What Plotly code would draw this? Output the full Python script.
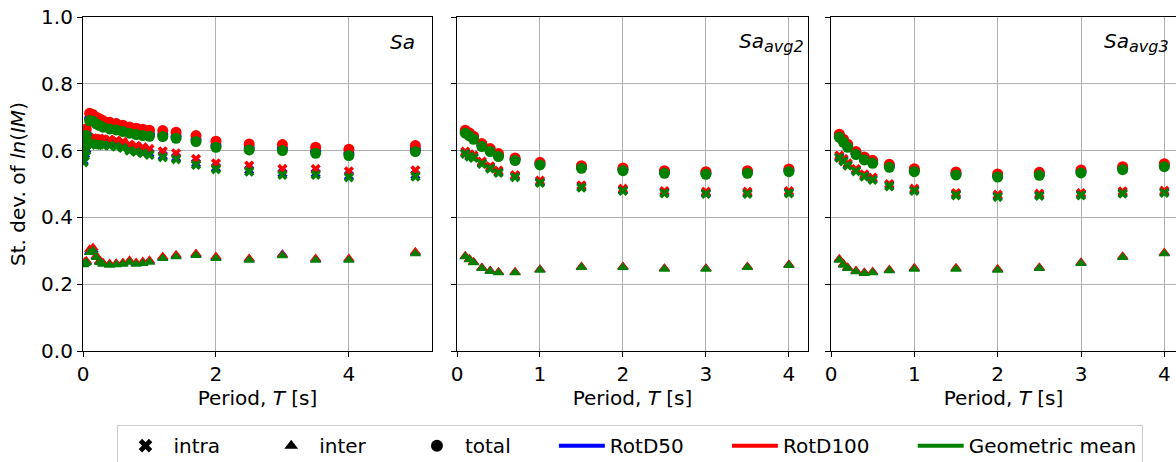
import plotly.graph_objects as go

# ---------------- data ----------------
# Panel 1: Sa
T_sa = [0.01, 0.03, 0.05, 0.1, 0.15, 0.2, 0.25, 0.3, 0.4, 0.5, 0.6, 0.7, 0.8, 0.9, 1.0,
        1.2, 1.4, 1.7, 2.0, 2.5, 3.0, 3.5, 4.0, 5.0]
sa_total_gm = [0.625, 0.635, 0.645, 0.690, 0.688, 0.680, 0.675, 0.670, 0.665, 0.662, 0.657, 0.652,
               0.648, 0.645, 0.643, 0.642, 0.637, 0.627, 0.610, 0.602, 0.600, 0.592, 0.585, 0.597]
sa_total_d50 = [0.630, 0.640, 0.650, 0.697, 0.695, 0.687, 0.682, 0.677, 0.672, 0.668, 0.663, 0.658,
                0.654, 0.651, 0.649, 0.648, 0.643, 0.633, 0.616, 0.608, 0.606, 0.598, 0.592, 0.604]
sa_total_d100 = [0.645, 0.655, 0.665, 0.712, 0.708, 0.700, 0.695, 0.690, 0.685, 0.681, 0.676, 0.671,
                 0.667, 0.664, 0.661, 0.660, 0.655, 0.645, 0.628, 0.620, 0.618, 0.610, 0.604, 0.615]
sa_intra_gm = [0.565, 0.585, 0.600, 0.622, 0.620, 0.617, 0.618, 0.616, 0.615, 0.612, 0.608, 0.600,
               0.596, 0.592, 0.587, 0.580, 0.574, 0.557, 0.544, 0.537, 0.527, 0.527, 0.520, 0.522]
sa_intra_d50 = [0.570, 0.590, 0.605, 0.627, 0.625, 0.622, 0.623, 0.621, 0.620, 0.617, 0.613, 0.605,
                0.601, 0.597, 0.592, 0.585, 0.579, 0.562, 0.549, 0.542, 0.532, 0.532, 0.525, 0.527]
sa_intra_d100 = [0.583, 0.603, 0.618, 0.638, 0.637, 0.635, 0.636, 0.634, 0.633, 0.630, 0.626, 0.618,
                 0.614, 0.610, 0.605, 0.598, 0.592, 0.575, 0.562, 0.555, 0.545, 0.545, 0.538, 0.541]
sa_inter_gm = [0.258, 0.262, 0.265, 0.295, 0.300, 0.280, 0.265, 0.260, 0.257, 0.258, 0.260, 0.266,
               0.260, 0.262, 0.266, 0.277, 0.282, 0.286, 0.277, 0.272, 0.285, 0.272, 0.272, 0.291]
sa_inter_d50 = [0.261, 0.265, 0.268, 0.299, 0.304, 0.283, 0.268, 0.263, 0.260, 0.261, 0.263, 0.269,
                0.263, 0.265, 0.269, 0.280, 0.285, 0.289, 0.280, 0.275, 0.290, 0.275, 0.275, 0.294]
sa_inter_d100 = [0.263, 0.267, 0.270, 0.305, 0.310, 0.286, 0.270, 0.265, 0.262, 0.263, 0.265, 0.272,
                 0.265, 0.268, 0.272, 0.283, 0.288, 0.292, 0.283, 0.277, 0.288, 0.277, 0.277, 0.297]

# Panel 2: Sa_avg2
T_avg2 = [0.1, 0.15, 0.2, 0.3, 0.4, 0.5, 0.7, 1.0, 1.5, 2.0, 2.5, 3.0, 3.5, 4.0]
avg2_total_gm = [0.652, 0.644, 0.634, 0.612, 0.597, 0.582, 0.570, 0.557, 0.547, 0.540, 0.532, 0.529, 0.532, 0.537]
avg2_total_d50 = [0.656, 0.648, 0.638, 0.616, 0.601, 0.586, 0.574, 0.561, 0.551, 0.544, 0.536, 0.533, 0.536, 0.541]
avg2_total_d100 = [0.661, 0.653, 0.643, 0.621, 0.606, 0.591, 0.578, 0.565, 0.555, 0.548, 0.540, 0.537, 0.540, 0.545]
avg2_intra_gm = [0.590, 0.582, 0.578, 0.560, 0.546, 0.533, 0.520, 0.503, 0.489, 0.479, 0.472, 0.470, 0.470, 0.472]
avg2_intra_d50 = [0.593, 0.585, 0.581, 0.563, 0.549, 0.536, 0.523, 0.506, 0.492, 0.482, 0.475, 0.473, 0.473, 0.475]
avg2_intra_d100 = [0.597, 0.589, 0.585, 0.567, 0.553, 0.540, 0.527, 0.510, 0.496, 0.486, 0.479, 0.477, 0.477, 0.479]
avg2_inter_gm = [0.282, 0.273, 0.264, 0.247, 0.238, 0.234, 0.234, 0.242, 0.250, 0.250, 0.245, 0.245, 0.250, 0.256]
avg2_inter_d50 = [0.284, 0.275, 0.266, 0.249, 0.240, 0.236, 0.236, 0.244, 0.252, 0.252, 0.247, 0.247, 0.252, 0.258]
avg2_inter_d100 = [0.285, 0.276, 0.267, 0.250, 0.241, 0.237, 0.237, 0.245, 0.253, 0.253, 0.248, 0.248, 0.253, 0.259]

# Panel 3: Sa_avg3
T_avg3 = [0.1, 0.15, 0.2, 0.3, 0.4, 0.5, 0.7, 1.0, 1.5, 2.0, 2.5, 3.0, 3.5, 4.0]
avg3_total_gm = [0.640, 0.625, 0.610, 0.588, 0.572, 0.562, 0.550, 0.537, 0.527, 0.521, 0.526, 0.533, 0.543, 0.552]
avg3_total_d50 = [0.644, 0.629, 0.614, 0.592, 0.576, 0.566, 0.554, 0.541, 0.531, 0.525, 0.530, 0.537, 0.547, 0.556]
avg3_total_d100 = [0.649, 0.634, 0.619, 0.597, 0.581, 0.571, 0.559, 0.546, 0.536, 0.530, 0.535, 0.542, 0.552, 0.561]
avg3_intra_gm = [0.578, 0.568, 0.555, 0.538, 0.522, 0.512, 0.493, 0.479, 0.466, 0.461, 0.464, 0.466, 0.471, 0.473]
avg3_intra_d50 = [0.581, 0.571, 0.558, 0.541, 0.525, 0.515, 0.496, 0.482, 0.469, 0.464, 0.467, 0.469, 0.474, 0.476]
avg3_intra_d100 = [0.585, 0.575, 0.562, 0.545, 0.529, 0.519, 0.500, 0.486, 0.473, 0.468, 0.471, 0.473, 0.478, 0.480]
avg3_inter_gm = [0.272, 0.257, 0.247, 0.237, 0.232, 0.234, 0.240, 0.245, 0.245, 0.242, 0.247, 0.262, 0.280, 0.291]
avg3_inter_d50 = [0.274, 0.259, 0.249, 0.239, 0.234, 0.236, 0.242, 0.247, 0.247, 0.244, 0.249, 0.264, 0.282, 0.293]
avg3_inter_d100 = [0.276, 0.261, 0.251, 0.241, 0.236, 0.238, 0.244, 0.249, 0.249, 0.246, 0.251, 0.266, 0.284, 0.295]

panel_titles = ["<i>Sa</i>",
                "<i>Sa</i><sub><span style='font-size:16px'><i>avg2</i></span></sub>",
                "<i>Sa</i><sub><span style='font-size:16px'><i>avg3</i></span></sub>"]
component_names = ["RotD50", "RotD100", "Geometric mean"]
component_colors = ["blue", "red", "green"]
type_names = ["intra", "inter", "total"]

panels = [
    (T_sa, {"intra": [sa_intra_d50, sa_intra_d100, sa_intra_gm],
            "inter": [sa_inter_d50, sa_inter_d100, sa_inter_gm],
            "total": [sa_total_d50, sa_total_d100, sa_total_gm]}),
    (T_avg2, {"intra": [avg2_intra_d50, avg2_intra_d100, avg2_intra_gm],
              "inter": [avg2_inter_d50, avg2_inter_d100, avg2_inter_gm],
              "total": [avg2_total_d50, avg2_total_d100, avg2_total_gm]}),
    (T_avg3, {"intra": [avg3_intra_d50, avg3_intra_d100, avg3_intra_gm],
              "inter": [avg3_inter_d50, avg3_inter_d100, avg3_inter_gm],
              "total": [avg3_total_d50, avg3_total_d100, avg3_total_gm]}),
]

# ---------------- figure ----------------
FONT = "DejaVu Sans"
FS = 20
symbols = {"intra": "x", "inter": "triangle-up", "total": "circle"}
sizes = {"intra": 9, "inter": 10, "total": 11}
PAD = "\u00a0" * 6  # spacing between legend entries

fig = go.Figure()
axis_ids = ["", "2", "3"]
for p, (T, data) in enumerate(panels):
    for t in type_names:
        for c in range(3):
            fig.add_trace(go.Scatter(
                x=T, y=data[t][c], mode="markers",
                xaxis="x" + axis_ids[p], yaxis="y" + axis_ids[p],
                marker=dict(symbol=symbols[t], size=sizes[t], color=component_colors[c],
                            line=dict(width=0)),
                showlegend=False, hoverinfo="skip"))

# legend entries
for t in type_names:
    fig.add_trace(go.Scatter(x=[None], y=[None], mode="markers", name=t + PAD,
                             marker=dict(symbol=symbols[t], size=12, color="black")))
for c in range(3):
    nm = component_names[c] + (PAD if c < 2 else "")
    fig.add_trace(go.Scatter(x=[None], y=[None], mode="lines", name=nm,
                             line=dict(color=component_colors[c], width=4)))

W, H = 1176, 462
ML, MR, MT, MB = 83, 0, 17, 111
pw = W - ML - MR
def dom(a, b):
    return [(a - ML) / pw, (b - ML) / pw]

x_domains = [dom(83, 432), dom(457, 808), dom(831, 1176)]
x_ranges = [[0, 5.25], [0, 4.23], [0, 4.14]]
x_ticks = [[0, 2, 4], [0, 1, 2, 3, 4], [0, 1, 2, 3, 4]]

common_axis = dict(showline=True, linecolor="black", linewidth=1.2, mirror=True,
                   ticks="outside", ticklen=5, tickwidth=1.2, tickcolor="black",
                   showgrid=True, gridcolor="#b0b0b0", gridwidth=1, zeroline=False,
                   tickfont=dict(family=FONT, size=FS, color="black"))

layout = dict(width=W, height=H, margin=dict(l=ML, r=MR, t=MT, b=MB, autoexpand=False),
              plot_bgcolor="white", paper_bgcolor="white",
              font=dict(family=FONT, size=FS, color="black"))
for p in range(3):
    xa = dict(common_axis, domain=x_domains[p], range=x_ranges[p], tickvals=x_ticks[p],
              anchor="y" + axis_ids[p],
              title=dict(text="Period, <i>T</i> [s]", font=dict(family=FONT, size=FS), standoff=4))
    ya = dict(common_axis, domain=[0, 1], range=[0, 1], tickvals=[0, 0.2, 0.4, 0.6, 0.8, 1.0],
              tickformat=".1f", anchor="x" + axis_ids[p], showticklabels=(p == 0))
    if p == 0:
        ya["title"] = dict(text="St. dev. of <i>ln</i>(<i>IM</i>)", font=dict(family=FONT, size=FS), standoff=10)
    layout["xaxis" + axis_ids[p]] = xa
    layout["yaxis" + axis_ids[p]] = ya

fig.update_layout(**layout)
fig.update_layout(legend=dict(orientation="h", x=0.5, xanchor="center", y=-0.222, yanchor="top",
                              bordercolor="#cccccc", borderwidth=1, bgcolor="white",
                              font=dict(family=FONT, size=FS), itemwidth=46))

title_x = [0.957, 0.993, 0.985]
for p in range(3):
    fig.add_annotation(text=panel_titles[p], xref="x" + axis_ids[p] + " domain",
                       yref="y" + axis_ids[p] + " domain", x=title_x[p], y=0.925,
                       xanchor="right", yanchor="middle", showarrow=False,
                       font=dict(family=FONT, size=FS, color="black"))

fig.write_html("out.html")
